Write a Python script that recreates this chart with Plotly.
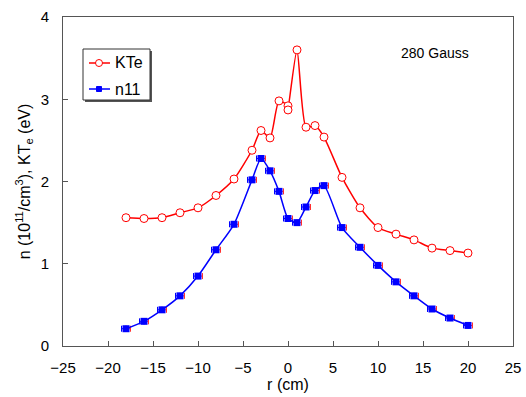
import plotly.graph_objects as go

r_kte = [-18, -16, -14, -12, -10, -8, -6, -4, -3, -2, -1, 0, 0, 1, 2, 3, 4, 6, 8, 10, 12, 14, 16, 18, 20]
kte = [1.56, 1.55, 1.56, 1.62, 1.68, 1.83, 2.03, 2.38, 2.62, 2.53, 2.98, 2.92, 2.87, 3.60, 2.66, 2.68, 2.54, 2.05, 1.68, 1.44, 1.36, 1.29, 1.19, 1.16, 1.13]

r_n = [-18, -16, -14, -12, -10, -8, -6, -4, -3, -2, -1, 0, 1, 2, 3, 4, 6, 8, 10, 12, 14, 16, 18, 20]
n11 = [0.21, 0.30, 0.44, 0.61, 0.85, 1.17, 1.48, 2.02, 2.28, 2.13, 1.88, 1.55, 1.50, 1.69, 1.89, 1.95, 1.44, 1.20, 0.98, 0.78, 0.61, 0.45, 0.34, 0.25]
n_err = [0.5] * len(r_n)

x_ticks = [-25, -20, -15, -10, -5, 0, 5, 10, 15, 20, 25]
y_ticks = [0, 1, 2, 3, 4]

FONT = "Liberation Sans, Arial, sans-serif"
RED = "#ff0000"
BLUE = "#0000ff"

fig = go.Figure()

fig.add_trace(go.Scatter(
    x=r_kte, y=kte, name="KTe", mode="lines+markers", showlegend=False,
    line=dict(color=RED, width=1.5, shape="spline", smoothing=0.6),
    marker=dict(symbol="circle", size=8, color="white", line=dict(color=RED, width=1)),
))

# red right-side error bars
fig.add_trace(go.Scatter(
    x=r_n, y=n11, mode="markers", showlegend=False, hoverinfo="skip",
    marker=dict(size=1, color="rgba(0,0,0,0)"),
    error_x=dict(type="data", symmetric=False, array=n_err, arrayminus=[0] * len(r_n),
                 color="#ff3030", thickness=1, width=3),
))

fig.add_trace(go.Scatter(
    x=r_n, y=n11, name="n11", mode="lines+markers", showlegend=False,
    line=dict(color=BLUE, width=1.5, shape="spline", smoothing=0.6),
    marker=dict(symbol="square", size=7, color=BLUE),
    error_x=dict(type="data", symmetric=False, array=[0] * len(r_n), arrayminus=n_err,
                 color=BLUE, thickness=1, width=3),
))

axis_common = dict(
    showgrid=False, zeroline=False, showline=True, linecolor="#555555", linewidth=1,
    mirror=True, ticks="inside", ticklen=5, tickcolor="#555555", automargin=False,
    tickfont=dict(family=FONT, size=15, color="black"),
)

fig.update_xaxes(range=[-25, 25], tickvals=x_ticks, ticklabelstandoff=8,
                 title=dict(text="r (cm)", font=dict(family=FONT, size=16, color="black"), standoff=0),
                 **axis_common)
fig.update_yaxes(range=[0, 4], tickvals=y_ticks, ticklabelstandoff=10,
                 title=dict(text="n (10<sup>11</sup>/cm<sup>3</sup>), KT<sub>e</sub> (eV)", font=dict(family=FONT, size=16, color="black"), standoff=6),
                 **axis_common)

# ---- manual legend (pixel helpers -> paper coords) ----
L, T, W, H = 63, 17, 450, 329
def px(x):
    return (x - L) / W
def py(y):
    return (T + H - y) / H

shapes = [
    # shadow
    dict(type="rect", xref="paper", yref="paper", x0=px(85), x1=px(152), y0=py(102), y1=py(51),
         fillcolor="#555555", line=dict(width=0)),
    # box
    dict(type="rect", xref="paper", yref="paper", x0=px(83), x1=px(150), y0=py(100), y1=py(49),
         fillcolor="white", line=dict(color="#333333", width=1)),
    # KTe sample line + marker
    dict(type="line", xref="paper", yref="paper", x0=px(89), x1=px(110), y0=py(63), y1=py(63),
         line=dict(color=RED, width=1.5)),
    dict(type="circle", xref="paper", yref="paper", x0=px(95.5), x1=px(102.5), y0=py(66.5), y1=py(59.5),
         fillcolor="white", line=dict(color=RED, width=1)),
    # n11 sample line + marker
    dict(type="line", xref="paper", yref="paper", x0=px(89), x1=px(110), y0=py(89), y1=py(89),
         line=dict(color=BLUE, width=1.5)),
    dict(type="rect", xref="paper", yref="paper", x0=px(96.5), x1=px(101.5), y0=py(91.5), y1=py(86.5),
         fillcolor=BLUE, line=dict(color=BLUE, width=1)),
]

annotations = [
    dict(text="KTe", x=px(113), y=py(63), xref="paper", yref="paper", xanchor="left", yanchor="middle",
         showarrow=False, font=dict(family=FONT, size=16, color="black")),
    dict(text="n11", x=px(113), y=py(89), xref="paper", yref="paper", xanchor="left", yanchor="middle",
         showarrow=False, font=dict(family=FONT, size=16, color="black")),
    dict(text="280 Gauss", x=px(435), y=py(53), xref="paper", yref="paper",
         xanchor="center", yanchor="middle",
         showarrow=False, font=dict(family=FONT, size=14, color="black")),
]

fig.update_layout(
    width=526, height=397,
    margin=dict(l=63, r=13, t=17, b=51),
    paper_bgcolor="white", plot_bgcolor="white",
    font=dict(family=FONT, color="black"),
    showlegend=False,
    shapes=shapes,
    annotations=annotations,
)

fig.write_html("out.html")
